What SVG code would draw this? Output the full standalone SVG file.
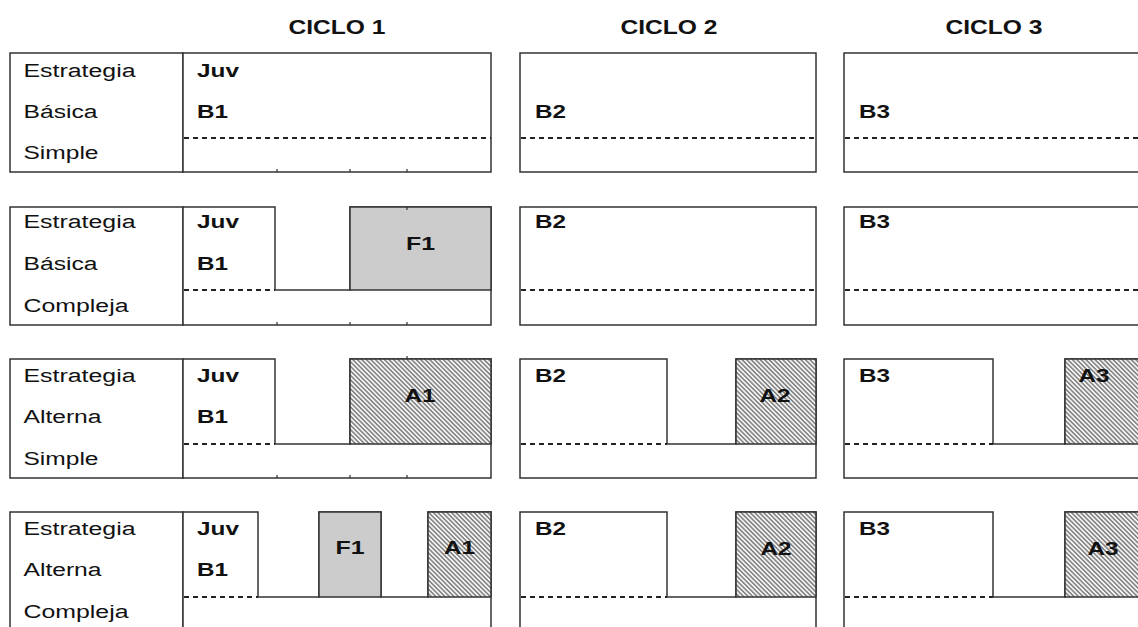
<svg xmlns="http://www.w3.org/2000/svg" width="1138" height="627" viewBox="0 0 1138 627">
  <defs>
    <!-- diagonal hatch used for the A blocks -->
    <pattern id="hatch" patternUnits="userSpaceOnUse" width="3.2" height="3.2" patternTransform="rotate(45)">
      <rect width="3.2" height="3.2" fill="#f4f4f4"/>
      <line x1="0" y1="1.6" x2="3.2" y2="1.6" stroke="#444" stroke-width="1"/>
    </pattern>
  </defs>
  <style>
    .box { fill: #fff; stroke: #333; stroke-width: 1.5; }
    .grey { fill: #cccccc; stroke: #333; stroke-width: 1.5; }
    .hatched { fill: url(#hatch); stroke: #333; stroke-width: 1.5; }
    .dash { fill: none; stroke: #222; stroke-width: 2; stroke-dasharray: 5 4; }
    .tick { fill: none; stroke: #333; stroke-width: 1.2; }
    text { font-family: "Liberation Sans", Arial, sans-serif; font-size: 18px; fill: #111; }
    .b { font-weight: bold; }
    .m { text-anchor: middle; }
    .h { font-size: 20px; }
  </style>
  <rect width="1138" height="627" fill="#fff"/>

  <!-- column headings -->
  <g id="headers">
    <text class="b m h" x="337" y="34" textLength="97" lengthAdjust="spacingAndGlyphs">CICLO 1</text>
    <text class="b m h" x="669" y="34" textLength="97" lengthAdjust="spacingAndGlyphs">CICLO 2</text>
    <text class="b m h" x="994" y="34" textLength="97" lengthAdjust="spacingAndGlyphs">CICLO 3</text>
  </g>

  <!-- ===== Row 1: Estrategia Básica Simple ===== -->
  <g id="r1-label">
    <rect class="box" x="10" y="53" width="173" height="119"/>
    <text x="23.5" y="77" textLength="112" lengthAdjust="spacingAndGlyphs">Estrategia</text>
    <text x="23.5" y="118" textLength="74" lengthAdjust="spacingAndGlyphs">Básica</text>
    <text x="23.5" y="159" textLength="75" lengthAdjust="spacingAndGlyphs">Simple</text>
  </g>
  <g id="r1-c1">
    <rect class="box" x="183" y="53" width="308" height="119"/>
    <line class="dash" x1="184" y1="138" x2="491" y2="138"/>
    <text class="b" x="197" y="77" textLength="42" lengthAdjust="spacingAndGlyphs">Juv</text>
    <text class="b" x="197" y="118" textLength="31" lengthAdjust="spacingAndGlyphs">B1</text>
  </g>
  <g id="r1-c2">
    <rect class="box" x="520" y="53" width="296" height="119"/>
    <line class="dash" x1="521" y1="138" x2="816" y2="138"/>
    <text class="b" x="535" y="118" textLength="31" lengthAdjust="spacingAndGlyphs">B2</text>
  </g>
  <g id="r1-c3">
    <rect class="box" x="844" y="53" width="296" height="119"/>
    <line class="dash" x1="845" y1="138" x2="1140" y2="138"/>
    <text class="b" x="859" y="118" textLength="31" lengthAdjust="spacingAndGlyphs">B3</text>
  </g>

  <!-- ===== Row 2: Estrategia Básica Compleja ===== -->
  <g id="r2-label">
    <rect class="box" x="10" y="207" width="173" height="118"/>
    <text x="23.5" y="228" textLength="112" lengthAdjust="spacingAndGlyphs">Estrategia</text>
    <text x="23.5" y="270" textLength="74" lengthAdjust="spacingAndGlyphs">Básica</text>
    <text x="23.5" y="312" textLength="105" lengthAdjust="spacingAndGlyphs">Compleja</text>
  </g>
  <g id="r2-c1">
    <path class="box" d="M183,207 H275 V290 H350 V207 H491 V325 H183 Z"/>
    <rect class="grey" x="350" y="207" width="141" height="83"/>
    <line class="dash" x1="184" y1="290" x2="275" y2="290"/>
    <text class="b" x="197" y="228" textLength="42" lengthAdjust="spacingAndGlyphs">Juv</text>
    <text class="b" x="197" y="270" textLength="31" lengthAdjust="spacingAndGlyphs">B1</text>
    <text class="b m" x="420.5" y="250" textLength="29" lengthAdjust="spacingAndGlyphs">F1</text>
  </g>
  <g id="r2-c2">
    <rect class="box" x="520" y="207" width="296" height="118"/>
    <line class="dash" x1="521" y1="290" x2="816" y2="290"/>
    <text class="b" x="535" y="228" textLength="31" lengthAdjust="spacingAndGlyphs">B2</text>
  </g>
  <g id="r2-c3">
    <rect class="box" x="844" y="207" width="296" height="118"/>
    <line class="dash" x1="845" y1="290" x2="1140" y2="290"/>
    <text class="b" x="859" y="228" textLength="31" lengthAdjust="spacingAndGlyphs">B3</text>
  </g>

  <!-- ===== Row 3: Estrategia Alterna Simple ===== -->
  <g id="r3-label">
    <rect class="box" x="10" y="359" width="173" height="119"/>
    <text x="23.5" y="382" textLength="112" lengthAdjust="spacingAndGlyphs">Estrategia</text>
    <text x="23.5" y="423" textLength="78" lengthAdjust="spacingAndGlyphs">Alterna</text>
    <text x="23.5" y="465" textLength="75" lengthAdjust="spacingAndGlyphs">Simple</text>
  </g>
  <g id="r3-c1">
    <path class="box" d="M183,359 H275 V444 H350 V359 H491 V478 H183 Z"/>
    <rect class="hatched" x="350" y="359" width="141" height="85"/>
    <line class="dash" x1="184" y1="444" x2="275" y2="444"/>
    <text class="b" x="197" y="382" textLength="42" lengthAdjust="spacingAndGlyphs">Juv</text>
    <text class="b" x="197" y="423" textLength="31" lengthAdjust="spacingAndGlyphs">B1</text>
    <text class="b m" x="420" y="402" textLength="31" lengthAdjust="spacingAndGlyphs">A1</text>
  </g>
  <g id="r3-c2">
    <path class="box" d="M520,359 H667 V444 H736 V359 H816 V478 H520 Z"/>
    <rect class="hatched" x="736" y="359" width="80" height="85"/>
    <line class="dash" x1="521" y1="444" x2="667" y2="444"/>
    <text class="b" x="535" y="382" textLength="31" lengthAdjust="spacingAndGlyphs">B2</text>
    <text class="b m" x="775" y="402" textLength="31" lengthAdjust="spacingAndGlyphs">A2</text>
  </g>
  <g id="r3-c3">
    <path class="box" d="M844,359 H993 V444 H1065 V359 H1140 V478 H844 Z"/>
    <rect class="hatched" x="1065" y="359" width="75" height="85"/>
    <line class="dash" x1="845" y1="444" x2="993" y2="444"/>
    <text class="b" x="859" y="382" textLength="31" lengthAdjust="spacingAndGlyphs">B3</text>
    <text class="b m" x="1094" y="382" textLength="31" lengthAdjust="spacingAndGlyphs">A3</text>
  </g>

  <!-- ===== Row 4: Estrategia Alterna Compleja ===== -->
  <g id="r4-label">
    <rect class="box" x="10" y="512" width="173" height="119"/>
    <text x="23.5" y="535" textLength="112" lengthAdjust="spacingAndGlyphs">Estrategia</text>
    <text x="23.5" y="576" textLength="78" lengthAdjust="spacingAndGlyphs">Alterna</text>
    <text x="23.5" y="618" textLength="105" lengthAdjust="spacingAndGlyphs">Compleja</text>
  </g>
  <g id="r4-c1">
    <path class="box" d="M183,512 H258 V597 H319 V512 H381 V597 H428 V512 H491 V631 H183 Z"/>
    <rect class="grey" x="319" y="512" width="62" height="85"/>
    <rect class="hatched" x="428" y="512" width="63" height="85"/>
    <line class="dash" x1="184" y1="597" x2="258" y2="597"/>
    <text class="b" x="197" y="535" textLength="42" lengthAdjust="spacingAndGlyphs">Juv</text>
    <text class="b" x="197" y="576" textLength="31" lengthAdjust="spacingAndGlyphs">B1</text>
    <text class="b m" x="350" y="554" textLength="29" lengthAdjust="spacingAndGlyphs">F1</text>
    <text class="b m" x="459.5" y="554" textLength="31" lengthAdjust="spacingAndGlyphs">A1</text>
  </g>
  <g id="r4-c2">
    <path class="box" d="M520,512 H667 V597 H736 V512 H816 V631 H520 Z"/>
    <rect class="hatched" x="736" y="512" width="80" height="85"/>
    <line class="dash" x1="521" y1="597" x2="667" y2="597"/>
    <text class="b" x="535" y="535" textLength="31" lengthAdjust="spacingAndGlyphs">B2</text>
    <text class="b m" x="776" y="555" textLength="31" lengthAdjust="spacingAndGlyphs">A2</text>
  </g>
  <g id="r4-c3">
    <path class="box" d="M844,512 H993 V597 H1065 V512 H1140 V631 H844 Z"/>
    <rect class="hatched" x="1065" y="512" width="75" height="85"/>
    <line class="dash" x1="845" y1="597" x2="993" y2="597"/>
    <text class="b" x="859" y="535" textLength="31" lengthAdjust="spacingAndGlyphs">B3</text>
    <text class="b m" x="1103" y="555" textLength="31" lengthAdjust="spacingAndGlyphs">A3</text>
  </g>

  <!-- small scale ticks along the CICLO 1 time axis -->
  <g id="ticks">
    <path class="tick" d="M277,172 v-3 M350,172 v-3 M407,172 v-3 M407,207 v3 M277,325 v-3 M350,325 v-3 M407,325 v-3 M407,359 v-3 M277,478 v-3 M350,478 v-3 M407,478 v-3"/>
  </g>
</svg>
